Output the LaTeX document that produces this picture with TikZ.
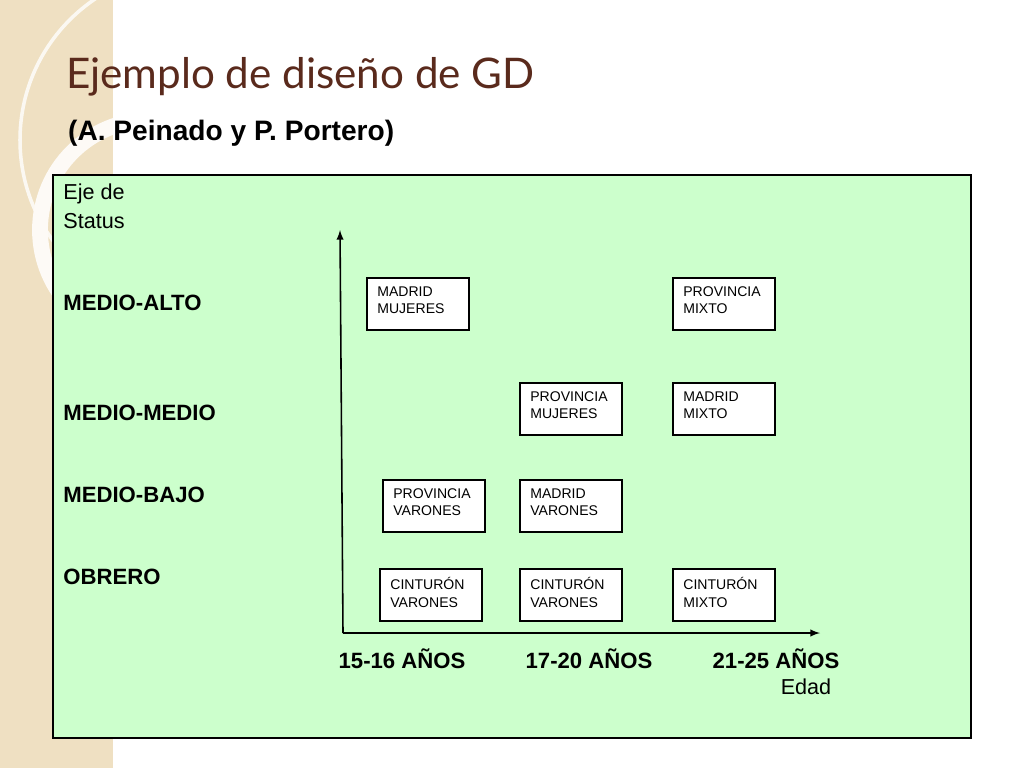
\documentclass[tikz,border=0pt]{standalone}
\usepackage{fontspec}
\setmainfont{Liberation Sans}
\newfontfamily\titlefont{Lato}
\begin{document}
\begin{tikzpicture}[x=0.02cm,y=-0.02cm,
 lab/.style={anchor=west,font=\bfseries\fontsize{12.6}{15}\selectfont},
 agelab/.style={font=\bfseries\fontsize{12.6}{15}\selectfont}]
\definecolor{beige}{HTML}{EFE0C2}
\definecolor{titlec}{HTML}{5A2A1C}
\definecolor{boxg}{HTML}{CCFFCC}
\useasboundingbox (0,0) rectangle (1024,768);
\fill[white] (0,0) rectangle (1024,768);
\fill[beige] (0,0) rectangle (113,768);
\begin{scope}
\clip (0,0) rectangle (113,768);
\draw[white,line width=2pt,opacity=0.8] (190,140) circle (170);
\draw[white!85!beige,line width=9pt] (150,230) circle (110);
\end{scope}
\node[anchor=base west,text=titlec,font=\titlefont\fontsize{24}{29}\selectfont] (title) at (60,88) {Ejemplo de diseño de GD};
\node[anchor=base west,font=\bfseries\fontsize{16}{19}\selectfont] (sub) at (62,140) {(A. Peinado y P. Portero)};
\draw[fill=boxg,line width=0.6pt] (53,175) rectangle (971,738);
\node[anchor=north west,align=left,inner sep=0pt,font=\fontsize{12.3}{16.5}\selectfont] (eje) at (63,183) {Eje de\\Status};
\node[lab,inner sep=0pt] (ma) at (63,303) {MEDIO-ALTO};
\node[lab,inner sep=0pt] (mm) at (63,413) {MEDIO-MEDIO};
\node[lab,inner sep=0pt] (mb) at (63,495) {MEDIO-BAJO};
\node[lab,inner sep=0pt] (ob) at (63,577) {OBRERO};
\coordinate (o) at (343,633);
\coordinate (top) at (340,230);
\coordinate (right) at (820,633);
\draw[-latex,line width=0.9pt] (o) -- (top);
\draw[-latex,line width=0.9pt] (o) -- (right);
\tikzset{bx/.style={draw,fill=white,line width=0.6pt}}
\newcommand\cellbox[5]{%
 \draw[bx] (#1,#2) rectangle +(102,52);
 \node[anchor=north west,align=left,inner sep=0pt,font=\fontsize{8}{10}\selectfont] (#5) at (#1+10,#2+8) {#3\\#4};}
\cellbox{367}{278}{MADRID}{MUJERES}{c1}
\cellbox{673}{278}{PROVINCIA}{MIXTO}{c2}
\cellbox{520}{383}{PROVINCIA}{MUJERES}{c3}
\cellbox{673}{383}{MADRID}{MIXTO}{c4}
\cellbox{383}{480}{PROVINCIA}{VARONES}{c5}
\cellbox{520}{480}{MADRID}{VARONES}{c6}
\cellbox{380}{569}{CINTURÓN}{VARONES}{c7}
\cellbox{520}{569}{CINTURÓN}{VARONES}{c8}
\cellbox{673}{569}{CINTURÓN}{MIXTO}{c9}
\node[agelab] (a1) at (402,659) {15-16 AÑOS};
\node[agelab] (a2) at (589,659) {17-20 AÑOS};
\node[agelab] (a3) at (776,659) {21-25 AÑOS};
\node[font=\fontsize{12.3}{15}\selectfont] (edad) at (806,687) {Edad};
\end{tikzpicture}
\end{document}
